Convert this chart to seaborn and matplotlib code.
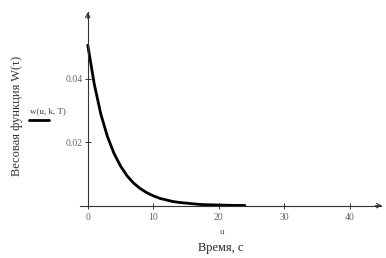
import numpy as np
import pandas as pd
import matplotlib
matplotlib.use("Agg")
import matplotlib.pyplot as plt
import seaborn as sns
from matplotlib.lines import Line2D

# values
u_vals = [0, 1, 2, 3, 4, 5, 6, 7, 8, 9, 10, 11, 12, 13, 14, 15, 16, 17, 18, 19, 20, 22, 24]
w_vals = [0.0505, 0.0382, 0.0288, 0.0218, 0.0165, 0.0125, 0.0094, 0.0071, 0.0054,
          0.0041, 0.0031, 0.0023, 0.0018, 0.0013, 0.0010, 0.0008, 0.0006, 0.0004,
          0.0003, 0.00025, 0.0002, 0.0001, 0.00005]
x_ticks = [0, 10, 20, 30, 40]
y_ticks = [0.02, 0.04]

df = pd.DataFrame({"u": u_vals, "w": w_vals})

sns.set_style("white")
plt.rcParams["font.family"] = ["Liberation Serif", "DejaVu Serif"]

fig = plt.figure(figsize=(3.86, 2.58), dpi=100)
ax = fig.add_axes([0.207, 0.198, 0.78, 0.756])

sns.lineplot(data=df, x="u", y="w", ax=ax, color="black", lw=2)

ax.set_xlim(-1.2, 44.8)
ax.set_ylim(-0.0004, 0.061)
ax.spines["right"].set_visible(False)
ax.spines["top"].set_visible(False)
for side in ["left", "bottom"]:
    ax.spines[side].set_position(("data", 0))
    ax.spines[side].set_color("#333333")
    ax.spines[side].set_linewidth(0.8)

# open arrow heads at the axis ends
ax.annotate("", xy=(45.4, 0), xytext=(43.5, 0), annotation_clip=False,
            arrowprops=dict(arrowstyle="->", lw=0.8, color="#333333",
                            mutation_scale=8))
ax.annotate("", xy=(0, 0.0618), xytext=(0, 0.058), annotation_clip=False,
            arrowprops=dict(arrowstyle="->", lw=0.8, color="#333333",
                            mutation_scale=8))

ax.set_xticks(x_ticks)
ax.set_yticks(y_ticks)
ax.set_xticklabels([str(t) for t in x_ticks])
ax.set_yticklabels(["0.02", "0.04"])
ax.tick_params(bottom=True, left=True, direction="inout", length=5, width=0.7,
               color="#333333", labelsize=7, labelcolor="#666666", pad=3)
ax.tick_params(axis="y", pad=1)
ax.set_xlabel("")
ax.set_ylabel("")

fig.text(0.045, 0.55, "Весовая функция W(τ)", rotation=90, ha="center", va="center",
         fontsize=9, color="#333333")
fig.text(0.575, 0.1, "u", ha="center", va="center", fontsize=6.5, color="#555555")
fig.text(0.572, 0.038, "Время, с", ha="center", va="center", fontsize=9, color="#222222")

# legend
fig.text(0.077, 0.57, "w(u, k, T)", ha="left", va="center", fontsize=6.5, color="#444444")
fig.add_artist(Line2D([0.075, 0.127], [0.535, 0.535], color="black", lw=2,
                      transform=fig.transFigure))

fig.savefig("out.png", dpi=100)
